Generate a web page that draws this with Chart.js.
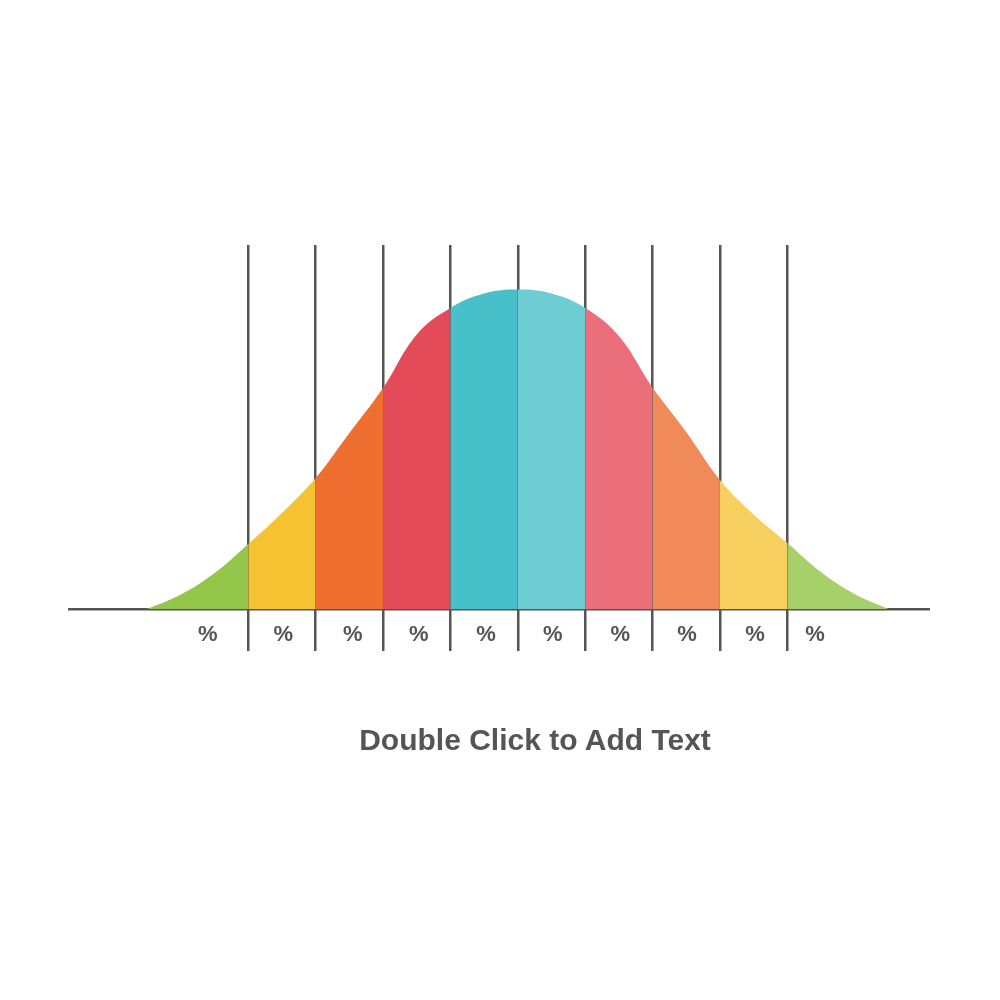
<!DOCTYPE html>
<html>
<head>
<meta charset="utf-8">
<script src="https://cdn.jsdelivr.net/npm/chart.js@4.4.1/dist/chart.umd.min.js"></script>
<style>
  html, body { margin: 0; padding: 0; background: #ffffff; }
  #wrap { position: relative; width: 1000px; height: 1000px; }
  #c { position: absolute; left: 0; top: 0; }
  #caption {
    position: absolute; left: 535px; top: 725px; transform: translateX(-50%);
    font-family: "Liberation Sans", Arial, sans-serif; font-weight: bold;
    font-size: 30px; line-height: 30px; color: #555555; white-space: nowrap;
  }
</style>
</head>
<body>
<div id="wrap">
  <canvas id="c" width="1000" height="1000"></canvas>
  <div id="caption">Double Click to Add Text</div>
</div>
<script>
// Curve sample points (x in band units, y = curve height)
const curveX = [-5.5, -5, -4.5, -4, -3.5, -3, -2.5, -2, -1.5, -1, -0.5, 0, 0.5, 1, 1.5, 2, 2.5, 3, 3.5, 4, 4.5, 5, 5.5];
const curveY = [0, 14.5, 36, 65, 96, 131, 176, 221, 274.5, 301, 315.5, 319.5, 315.5, 301, 273, 221.5, 177, 129, 94.5, 66, 37, 15, 0];
// Band boundaries (vertical lines)
const bandEdges = [-4, -3, -2, -1, 0, 1, 2, 3, 4];
// Band fill colours, left to right
const bandColors = ['#94C649', '#F5C232', '#EE6F30', '#E44B58', '#48C0CA', '#6ECCD3', '#EB6F7A', '#F18A59', '#F8D060', '#A7D06B'];
// Label positions and texts
const labelPositions = [-4.6, -3.48, -2.45, -1.47, -0.47, 0.52, 1.52, 2.51, 3.52, 4.41];
const tickLabels = ['%', '%', '%', '%', '%', '%', '%', '%', '%', '%'];

const lineColor = '#555555';
const points = curveX.map((x, i) => ({ x: x, y: curveY[i] }));
const X_MIN = -6.676, X_MAX = 6.118;

function bandIndex(x) {
  let n = 0;
  for (const e of bandEdges) if (x >= e - 1e-9) n++;
  return Math.min(n, bandColors.length - 1);
}
function labelAt(value) {
  const i = labelPositions.findIndex(v => Math.abs(v - value) < 1e-9);
  return i >= 0 ? tickLabels[i] : '';
}

new Chart(document.getElementById('c'), {
  type: 'line',
  data: {
    datasets: [{
      data: points,
      fill: 'origin',
      backgroundColor: bandColors[0],
      borderColor: 'rgba(0,0,0,0)',
      borderWidth: 0,
      pointRadius: 0,
      tension: 0.4,
      segment: {
        backgroundColor: ctx => bandColors[bandIndex(ctx.p0.parsed.x)]
      }
    }]
  },
  options: {
    responsive: false,
    devicePixelRatio: 1,
    animation: false,
    events: [],
    layout: { padding: { left: 68, right: 70, top: 245, bottom: 349 } },
    plugins: { legend: { display: false }, tooltip: { enabled: false }, title: { display: false } },
    scales: {
      x: {
        type: 'linear',
        z: 1,
        min: X_MIN,
        max: X_MAX,
        afterBuildTicks: scale => { scale.ticks = bandEdges.map(v => ({ value: v })); },
        grid: { color: lineColor, lineWidth: 2.5, drawTicks: false },
        border: { display: false },
        ticks: { display: false }
      },
      xLabels: {
        type: 'linear',
        axis: 'x',
        position: { y: 0 },
        z: 1,
        min: X_MIN,
        max: X_MAX,
        afterBuildTicks: scale => { scale.ticks = labelPositions.map(v => ({ value: v })); },
        grid: { display: false },
        border: { display: false },
        ticks: {
          autoSkip: false,
          maxRotation: 0,
          minRotation: 0,
          padding: 5,
          color: lineColor,
          font: { family: '"Liberation Sans", Arial, sans-serif', size: 22, weight: 'bold', lineHeight: 1.2 },
          callback: value => labelAt(value)
        }
      },
      y: {
        type: 'linear',
        z: 1,
        min: -42,
        max: 364,
        afterBuildTicks: scale => { scale.ticks = [{ value: 0 }]; },
        grid: { color: lineColor, lineWidth: 2.5, drawTicks: false },
        border: { display: false },
        ticks: { display: false }
      }
    }
  }
});
</script>
</body>
</html>
